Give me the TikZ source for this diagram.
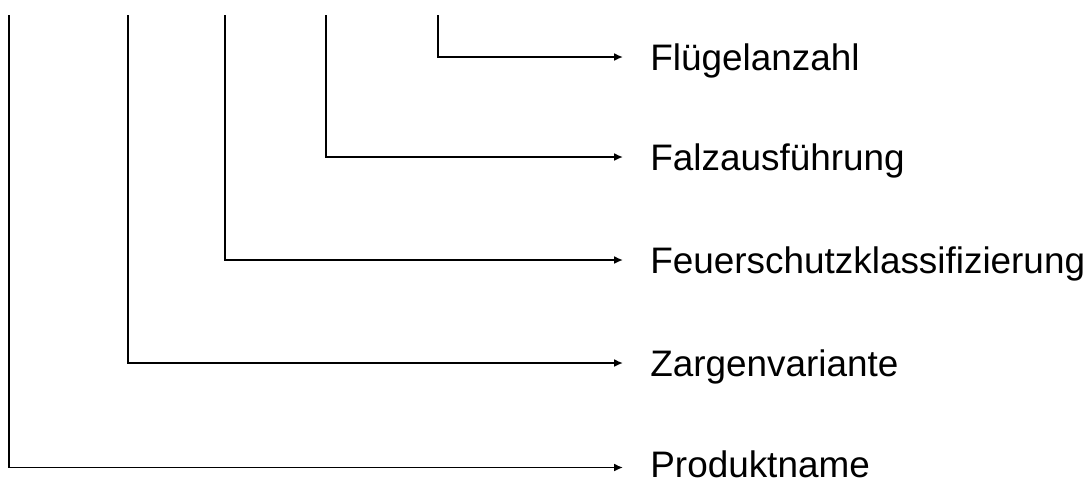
\documentclass[tikz,border=0pt]{standalone}
\usepackage{fontspec}
\setmainfont{Liberation Sans}
\usepackage{tikz}
\usetikzlibrary{arrows.meta}

\tikzset{
lbl/.style={anchor=west, inner xsep=0pt, inner ysep=0pt, text height=15.2pt, text depth=0pt, font=\fontsize{21}{25}\selectfont},
leg/.style={line width=1.1pt, -{Latex[length=5pt,width=4.5pt]}, shorten >=0.54cm}
}

\begin{document}
\begin{tikzpicture}[x=0.02cm,y=-0.02cm]
\useasboundingbox (0,0) rectangle (1091,481);

\foreach \n/\x in {a/9,b/128,c/225,d/326,e/438} {
\coordinate (top\n) at (\x,15);
}
\node[lbl] (produkt) at (650,464) {Produktname};
\node[lbl] (zarge) at (650,363) {Zargenvariante};
\node[lbl] (feuer) at (650,260) {Feuerschutzklassifizierung};
\node[lbl] (falz) at (650,157) {Falzausführung};
\node[lbl] (fluegel) at (650,57) {Flügelanzahl};

\draw[leg] (topa) |- ([yshift=-0.07cm]produkt.west);
\draw[leg] (topb) |- (zarge.west);
\draw[leg] (topc) |- (feuer.west);
\draw[leg] (topd) |- (falz.west);
\draw[leg] (tope) |- (fluegel.west);

\end{tikzpicture}
\end{document}
